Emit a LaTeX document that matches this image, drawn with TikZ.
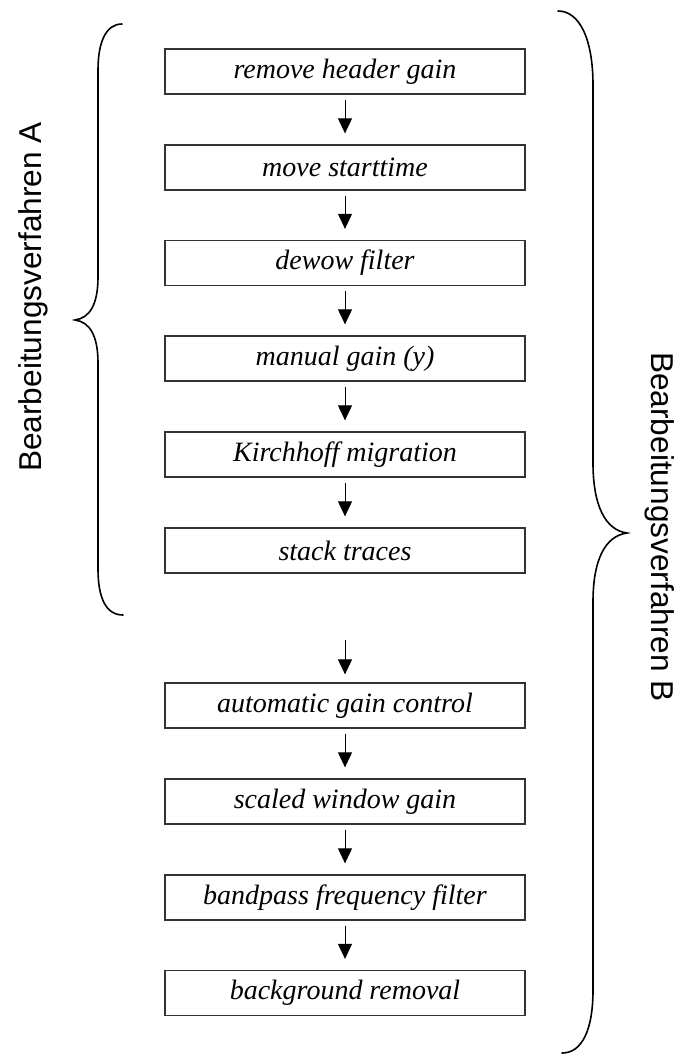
\documentclass[tikz,border=0pt]{standalone}
\usepackage{fontspec}
\setmainfont{Liberation Serif}
\newfontfamily\labelfont{Liberation Sans}
\usetikzlibrary{arrows.meta}
\begin{document}
\begin{tikzpicture}[x=1pt,y=-1pt,
  procbox/.style={draw=black!80, line width=1.3pt, minimum width=360pt, minimum height=45pt,
    inner sep=0pt, font=\fontsize{28}{30}\selectfont\itshape},
  flow/.style={-{Triangle[width=14pt,length=15pt]}, line width=1pt, shorten <=5pt, shorten >=11pt},
  brace/.style={line width=1.6pt, line cap=round},
  sidelabel/.style={font=\labelfont\fontsize{31.6}{34}\selectfont, inner sep=0pt, anchor=base}]
\useasboundingbox (0,0) rectangle (677,1055);
\node[procbox] (b1) at (345,71.5) {remove header gain};
\node[procbox] (b2) at (345,167.5) {move starttime};
\node[procbox] (b3) at (345,263) {dewow filter};
\node[procbox] (b4) at (345,358.5) {manual gain (y)};
\node[procbox] (b5) at (345,454.5) {Kirchhoff migration};
\node[procbox] (b6) at (345,550.5) {stack traces};
\node[procbox] (b7) at (345,705.5) {automatic gain control};
\node[procbox] (b8) at (345,801.5) {scaled window gain};
\node[procbox] (b9) at (345,897.5) {bandpass frequency filter};
\node[procbox] (b10) at (345,993) {background removal};
\coordinate (c0) at (345,640);
\draw[flow] (b1) -- (b2);
\draw[flow] (b2) -- (b3);
\draw[flow] (b3) -- (b4);
\draw[flow] (b4) -- (b5);
\draw[flow] (b5) -- (b6);
\draw[flow, shorten <=0pt, shorten >=8pt] (c0) -- (b7);
\draw[flow] (b7) -- (b8);
\draw[flow] (b8) -- (b9);
\draw[flow] (b9) -- (b10);
% left brace
\draw[brace] (122,24) .. controls (106,24) and (98,42) .. (98,70) -- (98,277)
  .. controls (98,304) and (90,318) .. (75,320)
  .. controls (90,322) and (98,336) .. (98,363) -- (98,569)
  .. controls (98,598) and (106,615) .. (123,615);
% right brace
\draw[brace] (558,11) .. controls (580,11) and (593,40) .. (593,85) -- (593,463)
  .. controls (593,505) and (605,530) .. (627,533)
  .. controls (605,536) and (593,560) .. (593,602) -- (593,990)
  .. controls (593,1030) and (582,1053) .. (562,1053);
\node[sidelabel, rotate=90] (la) at (41,297) {Bearbeitungsverfahren A};
\node[sidelabel, rotate=-90] (lb) at (651,527) {Bearbeitungsverfahren B};
\end{tikzpicture}
\end{document}
